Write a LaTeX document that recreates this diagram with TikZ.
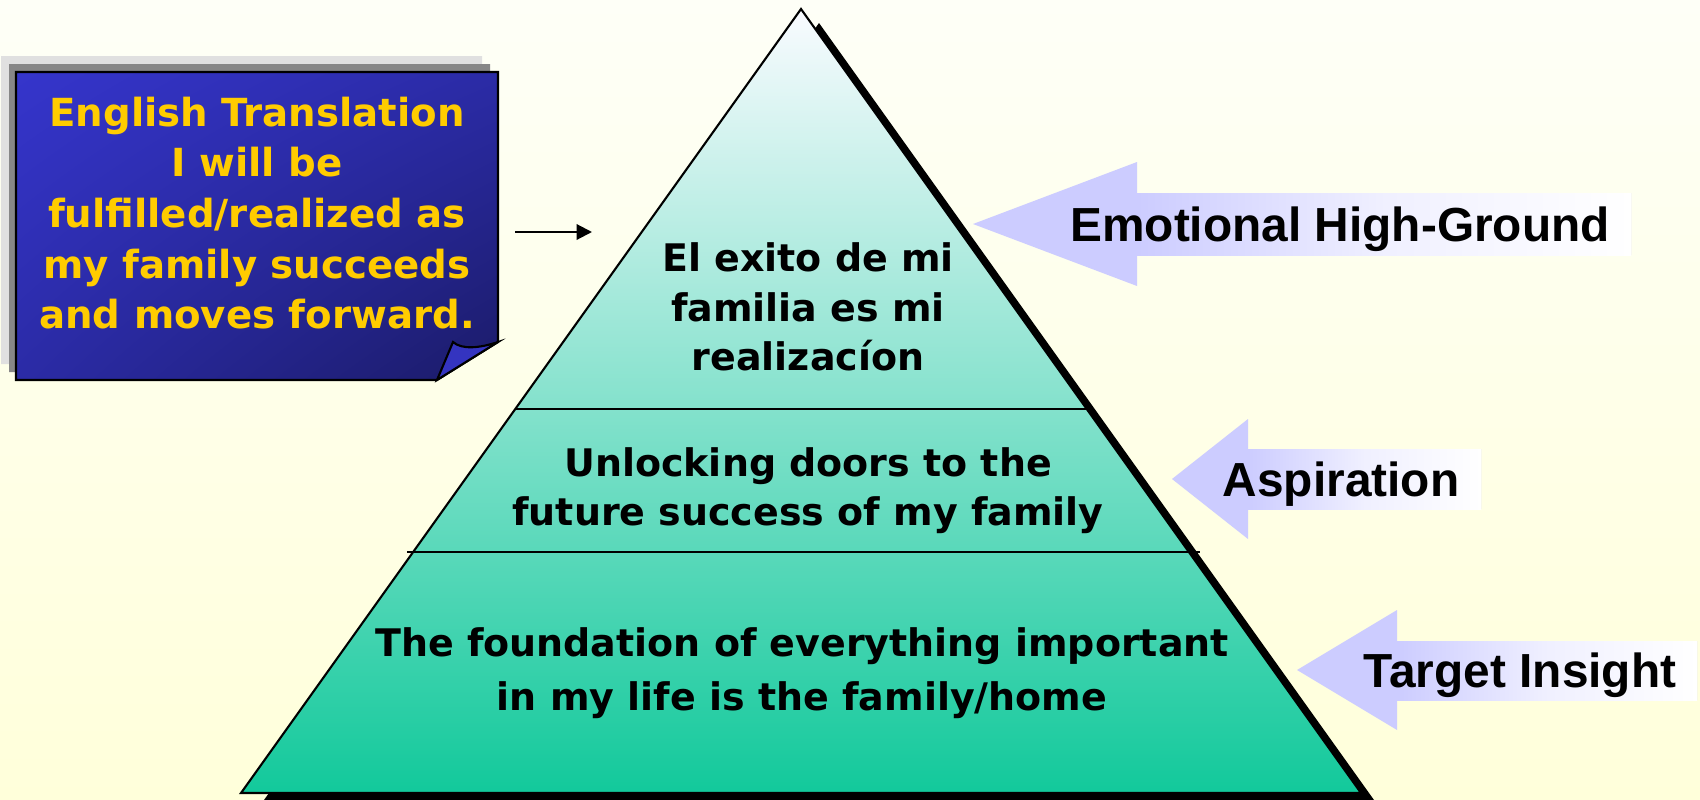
\documentclass[tikz,border=0pt]{standalone}
\usepackage{fontspec}
\usepackage{tikz}
\usetikzlibrary{arrows.meta,shadings}

\newfontfamily\verdfont{DejaVu Sans}
\newfontfamily\arialfont{Liberation Sans}

\definecolor{bgtop}{HTML}{FEFFF7}
\definecolor{bgbot}{HTML}{FFFFDA}
\definecolor{pyrtop}{HTML}{F9FBFF}
\definecolor{pyrmid}{HTML}{C9EEE2}
\definecolor{pyrbot}{HTML}{12C99B}
\definecolor{lav}{HTML}{CCCCFF}
\definecolor{gold}{HTML}{FFCC00}
\definecolor{boxa}{HTML}{3535CC}
\definecolor{boxb}{HTML}{2B2BA6}
\definecolor{boxc}{HTML}{1B1B68}
\definecolor{curl}{HTML}{3434C0}

\begin{document}
\begin{tikzpicture}[x=0.01cm, y=-0.01cm,
  pyrtext/.style={align=center, inner sep=0pt, font={\verdfont\bfseries\fontsize{10.8pt}{14pt}\selectfont}},
  boxtext/.style={align=center, inner sep=0pt, text=gold, font={\verdfont\bfseries\fontsize{11pt}{14.4pt}\selectfont}},
  tagtext/.style={anchor=base, inner sep=0pt, font={\arialfont\bfseries\fontsize{13.6pt}{16pt}\selectfont}},
  tagshade/.style={left color=lav, right color=white, middle color=lav!30}]

\useasboundingbox (0,0) rectangle (1700,800);
\clip (0,0) rectangle (1700,800);
\shade[top color=bgtop, bottom color=bgbot] (0,0) rectangle (1700,800);

% pyramid with its shadow
\fill[black] (819,23) -- (1379,807) -- (259,807) -- cycle;
\shade[top color=pyrtop, middle color=pyrmid, bottom color=pyrbot] (801,9) -- (1361,793) -- (241,793) -- cycle;
\draw[line width=0.6pt] (801,9) -- (1361,793) -- (241,793) -- cycle;
\draw[line width=0.6pt] (515,409) -- (1087,409);
\draw[line width=0.6pt] (407,552) -- (1200,552);

\node[pyrtext] (top) at (808,307) {El exito de mi\\familia es mi\\realizac\'ion};
\node[pyrtext] (mid) at (808,491) {Unlocking doors to the\\future success of my family};
\node[pyrtext, font={\verdfont\bfseries\fontsize{10.8pt}{15.2pt}\selectfont}] (base) at (802,673)
  {The foundation of everything important\\in my life is the family/home};

% translation box
\fill[black!12] (1,56) -- (482,56) -- (482,326) -- (421,364) -- (1,364) -- cycle;
\fill[black!47] (9,64) -- (490,64) -- (490,334) -- (429,372) -- (9,372) -- cycle;
\shade[upper left=boxa, upper right=boxb, lower left=boxb, lower right=boxc]
  (16,72) -- (498,72) -- (498,342) -- (437,380) -- (16,380) -- cycle;
\draw[line width=0.6pt] (16,72) -- (498,72) -- (498,342) -- (437,380) -- (16,380) -- cycle;
\draw[line width=0.6pt, fill=curl] (437,380) -- (453,342) .. controls (462,350) and (480,348) .. (498,342) -- cycle;
\node[boxtext] (trans) at (257,213)
  {English Translation\\I will be\\fulfilled/realized as\\my family succeeds\\and moves forward.};

\coordinate (a1) at (515,232);
\coordinate (a2) at (592,232);
\draw[line width=0.6pt, -{Triangle[length=4.4pt, width=4.4pt]}] (a1) -- (a2);

% side tags
\fill[lav] (973,224) -- (1137,162) -- (1137,193) -- (1631,193) -- (1631,255) -- (1137,255) -- (1137,286) -- cycle;
\shade[tagshade] (1137,193) rectangle (1631,255);
\node[tagtext] (emo) at (1340,241) {Emotional High-Ground};

\fill[lav] (1172,479) -- (1248,419) -- (1248,449) -- (1481,449) -- (1481,509) -- (1248,509) -- (1248,539) -- cycle;
\shade[tagshade] (1248,449) rectangle (1481,509);
\node[tagtext] (asp) at (1341,496) {Aspiration};

\fill[lav] (1297,670) -- (1397,610) -- (1397,641) -- (1697,641) -- (1697,700) -- (1397,700) -- (1397,730) -- cycle;
\shade[tagshade] (1397,641) rectangle (1697,700);
\node[tagtext] (ins) at (1520,687) {Target Insight};
\end{tikzpicture}
\end{document}
